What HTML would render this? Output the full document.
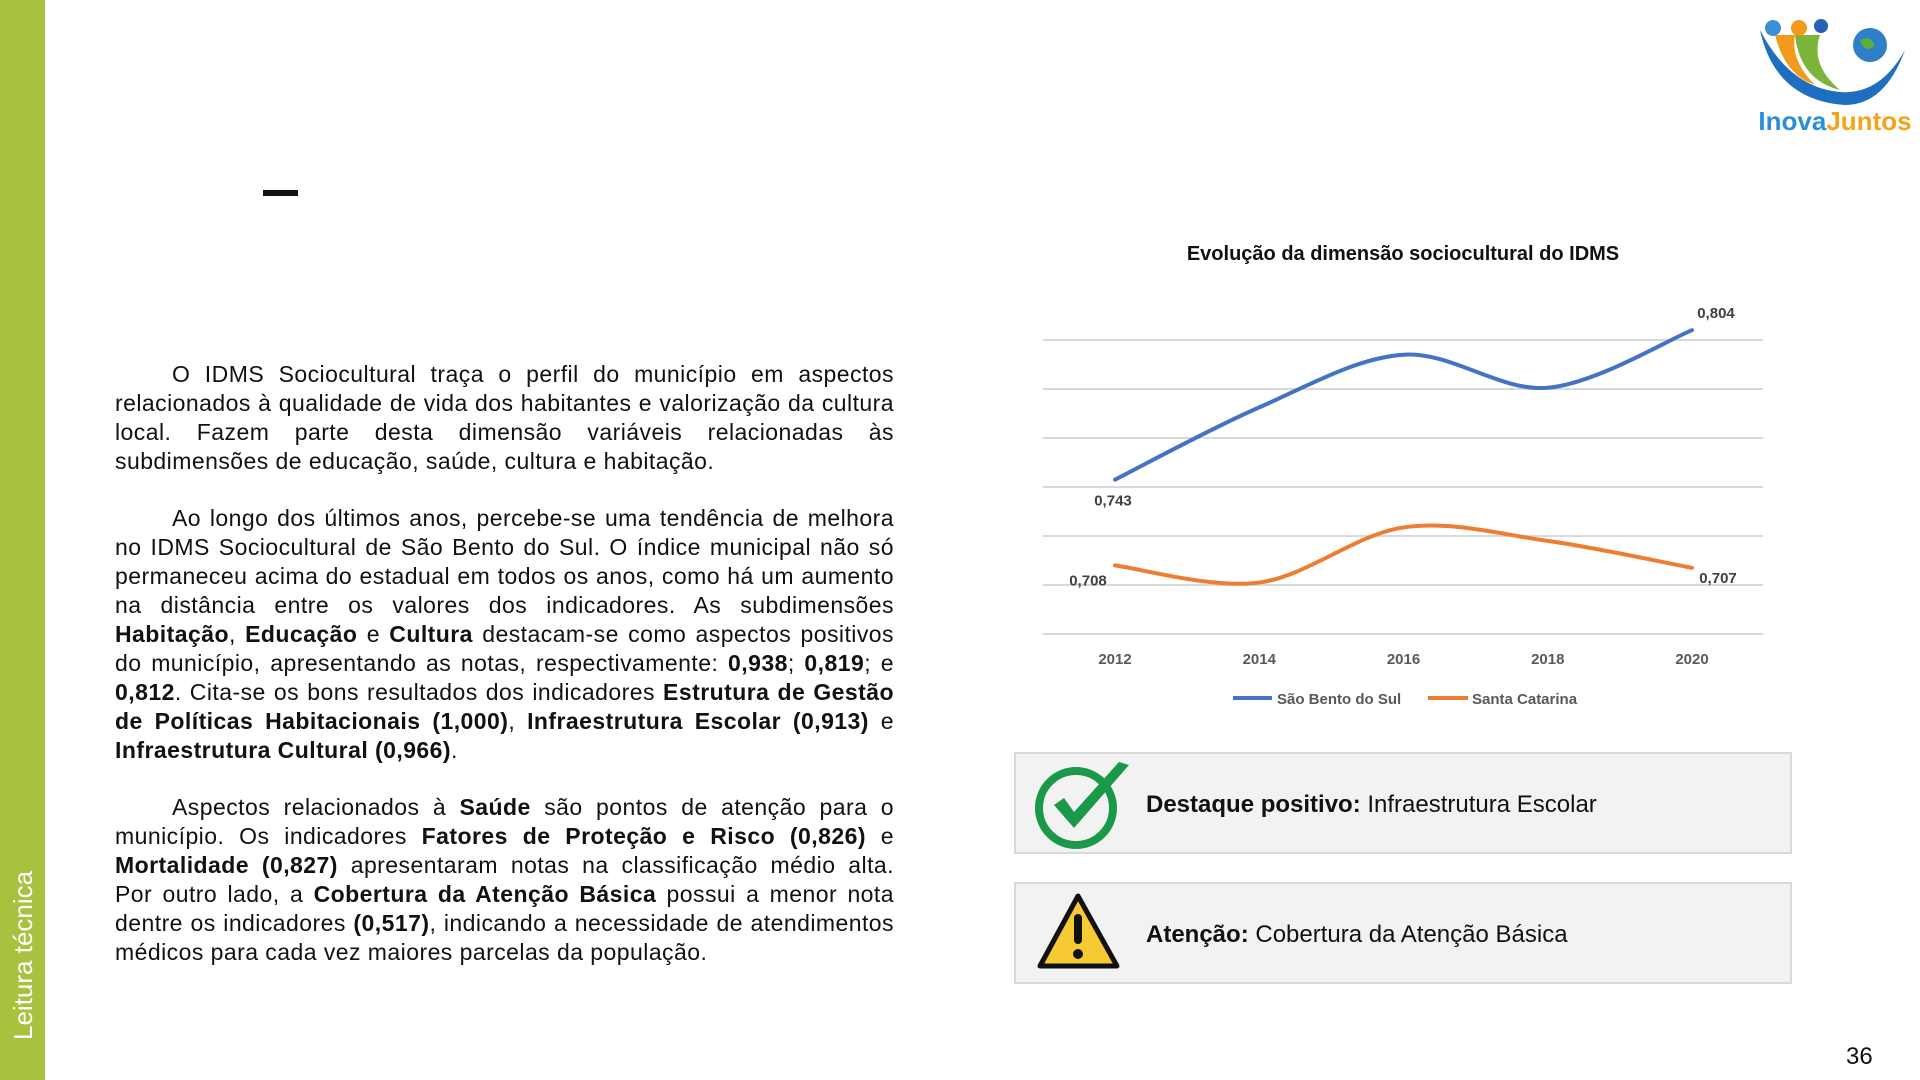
<!DOCTYPE html>
<html><head><meta charset="utf-8"><style>
body{margin:0;width:1920px;height:1080px;position:relative;background:#fff;overflow:hidden;font-family:"Liberation Sans",sans-serif}
.abs{position:absolute}
.txt{left:115px;width:779px;font-size:23px;line-height:29px;color:#111;text-align:justify;letter-spacing:0.45px}
.txt p{margin:0;text-indent:57px}
.box{left:1014px;width:778px;height:102px;background:#f2f2f2;border:2px solid #d9d9d9;box-sizing:border-box}
.box span{position:absolute;left:130px;top:37px;font-size:24px;color:#111}
</style></head><body>
<div class="abs" style="left:0;top:0;width:45px;height:1080px;background:#a8c13e"></div>
<div class="abs" style="left:8px;top:1040px;transform:rotate(-90deg);transform-origin:0 0;color:#fff;font-size:26px;white-space:nowrap;width:200px">Leitura técnica</div>
<div class="abs" style="left:263px;top:190px;width:35px;height:6px;background:#111"></div>
<svg class="abs" style="left:1755px;top:10px" width="160" height="125" viewBox="0 0 160 125">
<path d="M5 20 Q20 90 90 95 Q130 95 150 40 Q125 85 85 82 Q35 78 5 20Z" fill="#1f6fc0"/>
<path d="M20 25 Q30 65 60 75 Q35 50 40 25Z" fill="#f29a1a"/>
<path d="M40 25 Q45 70 85 80 Q55 55 65 25Z" fill="#7cb53a"/>
<circle cx="18" cy="18" r="8" fill="#3a8fd8"/><circle cx="44" cy="18" r="8" fill="#f29a1a"/><circle cx="66" cy="16" r="7" fill="#2a5fb8"/>
<circle cx="115" cy="35" r="17" fill="#2f7fc8"/><path d="M105 30 Q115 25 120 35 Q110 45 105 30Z" fill="#5cae3a"/>
<text x="80" y="120" text-anchor="middle" font-size="26" font-weight="bold" font-family="Liberation Sans,sans-serif"><tspan fill="#2a8fd8">Inova</tspan><tspan fill="#f5a31a">Juntos</tspan></text>
</svg>
<div class="abs txt" style="top:360px">
<p>O IDMS Sociocultural traça o perfil do município em aspectos relacionados à qualidade de vida dos habitantes e valorização da cultura local. Fazem parte desta dimensão variáveis relacionadas às subdimensões de educação, saúde, cultura e habitação.</p>
<p style="margin-top:28px">Ao longo dos últimos anos, percebe-se uma tendência de melhora no IDMS Sociocultural de São Bento do Sul. O índice municipal não só permaneceu acima do estadual em todos os anos, como há um aumento na distância entre os valores dos indicadores. As subdimensões <b>Habitação</b>, <b>Educação</b> e <b>Cultura</b> destacam-se como aspectos positivos do município, apresentando as notas, respectivamente: <b>0,938</b>; <b>0,819</b>; e <b>0,812</b>. Cita-se os bons resultados dos indicadores <b>Estrutura de Gestão de Políticas Habitacionais (1,000)</b>, <b>Infraestrutura Escolar (0,913)</b> e <b>Infraestrutura Cultural (0,966)</b>.</p>
<p style="margin-top:28px">Aspectos relacionados à <b>Saúde</b> são pontos de atenção para o município. Os indicadores <b>Fatores de Proteção e Risco (0,826)</b> e <b>Mortalidade (0,827)</b> apresentaram notas na classificação médio alta. Por outro lado, a <b>Cobertura da Atenção Básica</b> possui a menor nota dentre os indicadores <b>(0,517)</b>, indicando a necessidade de atendimentos médicos para cada vez maiores parcelas da população.</p>
</div>
<svg class="abs" id="chart" style="left:0;top:0" width="1920" height="1080"></svg>
<div class="abs box" style="top:752px">
<svg class="abs" style="left:18px;top:6px" width="100" height="90" viewBox="0 0 100 90">
<circle cx="42" cy="48" r="37" fill="none" stroke="#1a9a48" stroke-width="8"/>
<path d="M20 45 L40 68 L95 5 L85 2 L40 52 L30 38Z" fill="#1a9a48"/></svg>
<span><b>Destaque positivo:</b> Infraestrutura Escolar</span></div>
<div class="abs box" style="top:882px">
<svg class="abs" style="left:20px;top:8px" width="85" height="80" viewBox="0 0 85 80">
<path d="M42 4 L81 74 L4 74Z" fill="#f7c933" stroke="#111" stroke-width="5" stroke-linejoin="round"/>
<rect x="38" y="22" width="8" height="30" rx="4" fill="#111"/><circle cx="42" cy="62" r="5" fill="#111"/></svg>
<span><b>Atenção:</b> Cobertura da Atenção Básica</span></div>
<div class="abs" style="left:1846px;top:1043px;font-size:24px;color:#111">36</div>
<script>
const years=['2012','2014','2016','2018','2020'];
const sbs=[0.743,0.7725,0.794,0.7805,0.804];
const sc=[0.708,0.701,0.7235,0.718,0.707];
const sbsLabels={0:'0,743',4:'0,804'};
const scLabels={0:'0,708',4:'0,707'};
const gridVals=[0.68,0.70,0.72,0.74,0.76,0.78,0.80];
const NS='http://www.w3.org/2000/svg';
const svg=document.getElementById('chart');
const X0=1043,X1=1763,Y0=634,Y1=340;
const x=i=>1115+i*(1692-1115)/(years.length-1);
const y=v=>Y0-(v-0.68)/(0.80-0.68)*(Y0-Y1);
function mk(t,a){const e=document.createElementNS(NS,t);for(const k in a)e.setAttribute(k,a[k]);svg.appendChild(e);return e;}
function txt(s,xx,yy,size,anchor,w,fill){const e=mk('text',{x:xx,y:yy,'font-size':size,'text-anchor':anchor,'font-weight':w,fill:fill,'font-family':'Liberation Sans,sans-serif'});e.textContent=s;return e;}
gridVals.forEach(g=>{const l=mk('line',{x1:X0,x2:X1,y1:y(g),y2:y(g),stroke:'#d9d9d9','stroke-width':2});

});
const t=txt('Evolução da dimensão sociocultural do IDMS',1403,260,20,'middle','bold','#111');


years.forEach((yr,i)=>{const e=txt(yr,x(i),664,15,'middle','bold','#595959');

});
function path(vals){const p=vals.map((v,i)=>[x(i),y(v)]);let d='M'+p[0];for(let i=0;i<p.length-1;i++){const p0=p[i-1]||p[i],p1=p[i],p2=p[i+1],p3=p[i+2]||p2;
const c1=[p1[0]+(p2[0]-p0[0])/6,p1[1]+(p2[1]-p0[1])/6],c2=[p2[0]-(p3[0]-p1[0])/6,p2[1]-(p3[1]-p1[1])/6];d+=' C'+c1+' '+c2+' '+p2;}return d;}
const l1=mk('path',{d:path(sbs),fill:'none',stroke:'#4472c4','stroke-width':4,'stroke-linecap':'round'});


const l2=mk('path',{d:path(sc),fill:'none',stroke:'#ed7d31','stroke-width':4,'stroke-linecap':'round'});


for(const i in sbsLabels){const e=txt(sbsLabels[i],i==0?x(i)-2:x(i)+24,i==0?y(sbs[i])+26:y(sbs[i])-12,15,'middle','bold','#404040');

}
for(const i in scLabels){const e=txt(scLabels[i],i==0?x(i)-27:x(i)+26,i==0?y(sc[i])+20:y(sc[i])+15,15,'middle','bold','#404040');

}
const lg1=mk('line',{x1:1233,x2:1272,y1:698,y2:698,stroke:'#4472c4','stroke-width':4});


const lt1=txt('São Bento do Sul',1277,704,15,'start','bold','#595959');


const lg2=mk('line',{x1:1428,x2:1468,y1:698,y2:698,stroke:'#ed7d31','stroke-width':4});


const lt2=txt('Santa Catarina',1472,704,15,'start','bold','#595959');


</script>
</body></html>
